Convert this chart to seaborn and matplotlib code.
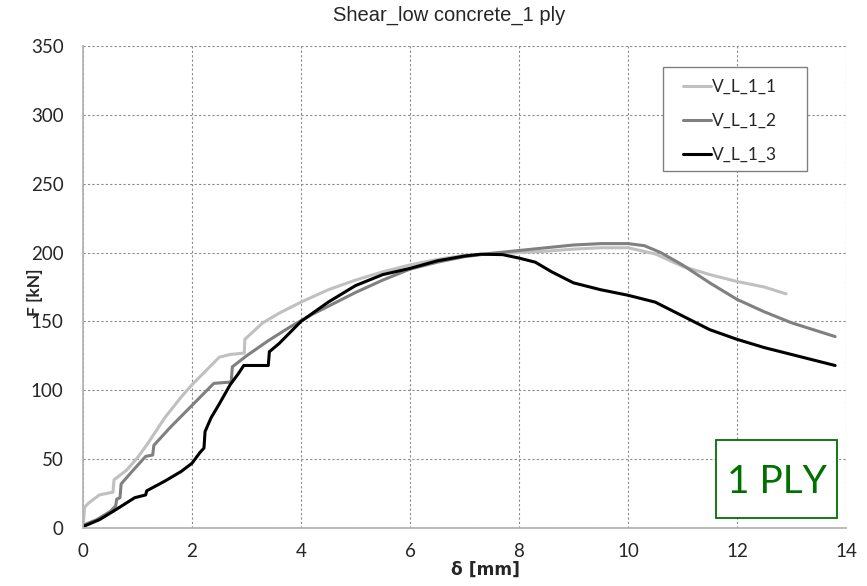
import pandas as pd
import matplotlib.pyplot as plt
import seaborn as sns
from matplotlib.lines import Line2D
from matplotlib.patches import Rectangle

x1 = [0, 0.03, 0.1, 0.3, 0.55, 0.57, 0.8, 1.0, 1.2, 1.5, 1.8, 2.0, 2.3, 2.5, 2.7, 2.96, 2.97, 3.3, 3.6,
      4.0, 4.5, 5.0, 5.5, 6.0, 6.5, 7.0, 7.5, 8.0, 8.5, 9.0, 9.5, 10.0, 10.5, 11.0, 11.5, 12.0, 12.5, 12.9]
y1 = [0, 15, 18, 24, 26, 35, 42, 51, 62, 80, 95, 104, 116, 124, 126, 127, 137, 149, 156,
      164, 173, 180, 186, 191, 195, 198, 199, 200, 201, 202.5, 203.5, 203.5, 199, 190, 184, 179, 175, 170]

x2 = [0, 0.25, 0.5, 0.6, 0.62, 0.68, 0.7, 0.9, 1.15, 1.28, 1.3, 1.6, 2.0, 2.4, 2.72, 2.74, 3.0, 3.4, 3.8,
      4.2, 4.6, 5.0, 5.5, 6.0, 6.5, 7.0, 7.5, 8.0, 8.5, 9.0, 9.5, 10.0, 10.3, 10.6, 11.0, 11.5, 12.0,
      12.5, 13.0, 13.4, 13.8]
y2 = [2, 6, 12, 16, 21, 22, 32, 41, 52, 53, 60, 73, 89, 105, 106, 117, 125, 136, 146,
      155, 163, 171, 180, 188, 193, 197, 199.5, 201.5, 203.5, 205.5, 206.5, 206.5, 205, 200, 191, 178, 166,
      157, 149, 144, 139]

x3 = [0, 0.3, 0.55, 0.75, 0.95, 1.1, 1.15, 1.17, 1.5, 1.8, 2.0, 2.15, 2.22, 2.24, 2.35, 2.5, 2.7, 2.85,
      2.95, 3.4, 3.42, 3.6, 4.0, 4.5, 5.0, 5.5, 6.0, 6.5, 7.0, 7.3, 7.7, 8.0, 8.3, 8.6, 9.0, 9.5, 10.0,
      10.5, 11.0, 11.5, 12.0, 12.5, 13.0, 13.4, 13.8]
y3 = [1, 6, 12, 17, 22, 23.5, 24, 27, 34, 41, 47, 55, 58, 70, 80, 90, 104, 112,
      118, 118, 128, 134, 150, 164, 176, 184, 188.5, 194, 197.5, 198.8, 198.5, 196, 193, 186, 178, 173, 169,
      164, 154, 144, 137, 131, 126, 122, 118]

names = ['V_L_1_1', 'V_L_1_2', 'V_L_1_3']
colors = ['#C0C0C0', '#808080', '#000000']

df = pd.concat([
    pd.DataFrame({'d': x1, 'F': y1, 'spec': names[0]}),
    pd.DataFrame({'d': x2, 'F': y2, 'spec': names[1]}),
    pd.DataFrame({'d': x3, 'F': y3, 'spec': names[2]}),
])

sns.set_style('white')
plt.rcParams['font.family'] = ['Lato', 'DejaVu Sans']

fig = plt.figure(figsize=(8.67, 5.86), dpi=100)
ax = fig.add_axes([0.0957, 0.099, 0.8801, 0.8225])

sns.lineplot(data=df, x='d', y='F', hue='spec', palette=dict(zip(names, colors)),
             sort=False, estimator=None, linewidth=2.2, ax=ax, legend=False)

ax.set_xlim(0, 14)
ax.set_ylim(0, 350)
ax.set_xticks(range(0, 15, 2))
ax.set_yticks(range(0, 351, 50))
ax.grid(True, color='#8a8a8a', linestyle=(0, (2, 2)), linewidth=0.8)
ax.set_axisbelow(True)
for s in ['top', 'right']:
    ax.spines[s].set_visible(False)
for s in ['left', 'bottom']:
    ax.spines[s].set_color('#b4b4b4')
    ax.spines[s].set_linewidth(1.3)
ax.tick_params(axis='both', labelsize=13.5, length=5, color='#b4b4b4', direction='out')
ax.tick_params(axis='x', pad=6)
ax.tick_params(axis='y', pad=9)

fig.text(0.5185, 0.99, 'Shear_low concrete_1 ply', ha='center', va='top',
         fontsize=14.5, family='Liberation Sans')
ax.set_xlabel('δ [mm]', fontsize=12.3, fontweight='bold', family='DejaVu Sans')
ax.xaxis.set_label_coords(0.528, -0.068)
ax.set_ylabel('F [kN]', fontsize=12.5, fontweight='bold')
ax.yaxis.set_label_coords(-0.052, 0.49)

# legend frame drawn separately so the entries can sit inside it like Excel's
ax.add_patch(Rectangle((0.7598, 0.7407), 0.1887, 0.2151, transform=ax.transAxes,
                       fc='white', ec='#808080', lw=1.0, zorder=4))
handles = [Line2D([0], [0], color=c, lw=2.2) for c in colors]
leg = ax.legend(handles, names, loc='upper left', bbox_to_anchor=(0.7864, 0.932),
                fontsize=12.5, frameon=False, handlelength=1.6, handletextpad=0.05,
                labelspacing=1.05, borderpad=0, borderaxespad=0)
leg.set_zorder(5)

green = '#007000'
ax.add_patch(Rectangle((0.829, 0.0214), 0.159, 0.1612, transform=ax.transAxes,
                       fc='white', ec=green, lw=1.3, zorder=5))
ax.text(0.9096, 0.0726, '1 PLY', transform=ax.transAxes, ha='center', va='baseline',
        fontsize=28, color=green, zorder=6)

fig.savefig('out.png', dpi=100)
